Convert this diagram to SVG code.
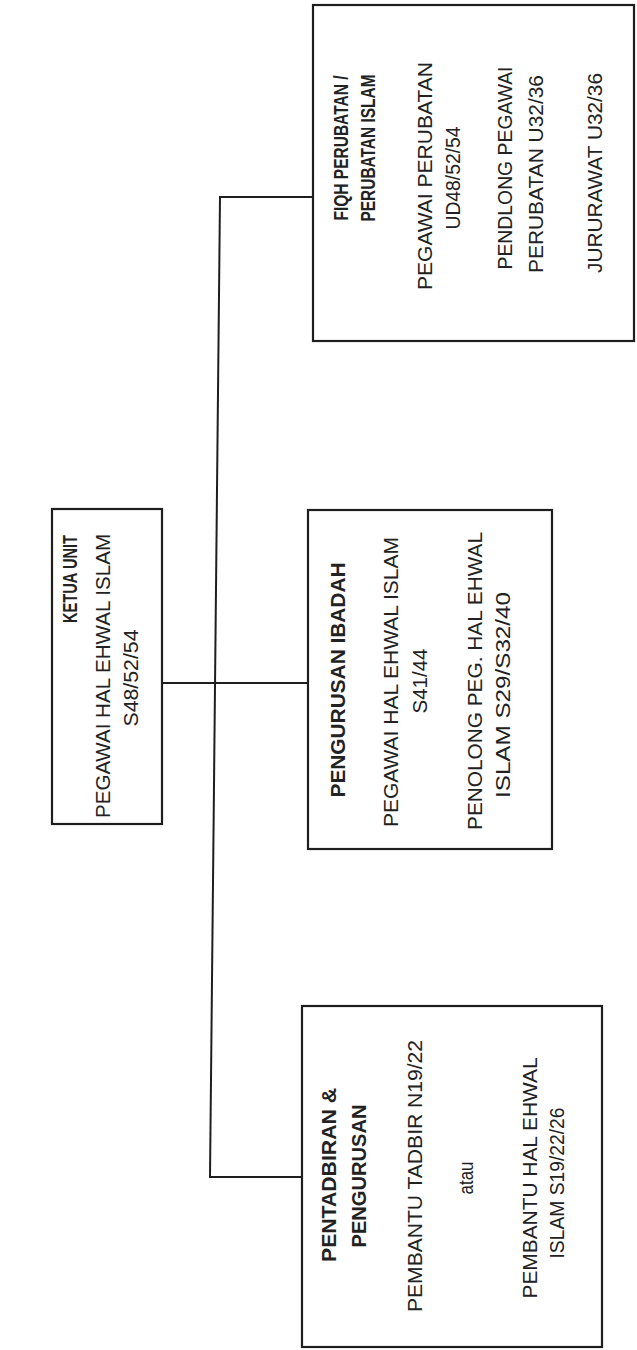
<svg xmlns="http://www.w3.org/2000/svg" width="637" height="1350" viewBox="0 0 637 1350">
  <style>
    .box { fill: none; stroke: #1e1e1e; stroke-width: 2.2; }
    .link { fill: none; stroke: #1e1e1e; stroke-width: 2; }
    text { font-family: "Liberation Sans", Arial, sans-serif; font-size: 20px; fill: #222222; text-anchor: middle; }
    .head { font-weight: bold; }
  </style>
  <rect width="637" height="1350" fill="#ffffff"/>

  <!-- connectors -->
  <g id="connectors">
    <line class="link" x1="220" y1="197" x2="210" y2="1177"/>
    <line class="link" x1="219" y1="197" x2="313" y2="197"/>
    <line class="link" x1="163" y1="683" x2="308" y2="683"/>
    <line class="link" x1="209" y1="1177" x2="302" y2="1177"/>
  </g>

  <!-- head of unit -->
  <g id="ketua-unit">
    <rect class="box" x="52" y="509" width="110" height="315"/>
    <text class="head" transform="translate(77,579) rotate(-90)" textLength="88" lengthAdjust="spacingAndGlyphs">KETUA UNIT</text>
    <text transform="translate(110,676) rotate(-90)" textLength="284" lengthAdjust="spacingAndGlyphs">PEGAWAI HAL EHWAL ISLAM</text>
    <text transform="translate(138,678) rotate(-90)" textLength="97" lengthAdjust="spacingAndGlyphs">S48/52/54</text>
  </g>

  <!-- Islamic medicine section -->
  <g id="fiqh-perubatan">
    <rect class="box" x="313" y="5" width="321" height="336"/>
    <text class="head" transform="translate(348,148) rotate(-90)" textLength="145" lengthAdjust="spacingAndGlyphs">FIQH PERUBATAN /</text>
    <text class="head" transform="translate(375,148) rotate(-90)" textLength="147" lengthAdjust="spacingAndGlyphs">PERUBATAN ISLAM</text>
    <text transform="translate(432,176) rotate(-90)" textLength="228" lengthAdjust="spacingAndGlyphs">PEGAWAI PERUBATAN</text>
    <text transform="translate(460,178) rotate(-90)" textLength="103" lengthAdjust="spacingAndGlyphs">UD48/52/54</text>
    <text transform="translate(512,168) rotate(-90)" textLength="203" lengthAdjust="spacingAndGlyphs">PENDLONG PEGAWAI</text>
    <text transform="translate(543,174) rotate(-90)" textLength="198" lengthAdjust="spacingAndGlyphs">PERUBATAN U32/36</text>
    <text transform="translate(602,173) rotate(-90)" textLength="200" lengthAdjust="spacingAndGlyphs">JURURAWAT U32/36</text>
  </g>

  <!-- worship management section -->
  <g id="pengurusan-ibadah">
    <rect class="box" x="308" y="510" width="244" height="339"/>
    <text class="head" transform="translate(345,680) rotate(-90)" textLength="235" lengthAdjust="spacingAndGlyphs">PENGURUSAN IBADAH</text>
    <text transform="translate(398,682) rotate(-90)" textLength="290" lengthAdjust="spacingAndGlyphs">PEGAWAI HAL EHWAL ISLAM</text>
    <text transform="translate(427,681) rotate(-90)" textLength="65" lengthAdjust="spacingAndGlyphs">S41/44</text>
    <text transform="translate(482,681) rotate(-90)" textLength="298" lengthAdjust="spacingAndGlyphs">PENOLONG PEG. HAL EHWAL</text>
    <text transform="translate(510,695) rotate(-90)" textLength="206" lengthAdjust="spacingAndGlyphs">ISLAM S29/S32/40</text>
  </g>

  <!-- administration section -->
  <g id="pentadbiran">
    <rect class="box" x="302" y="1006" width="300" height="341"/>
    <text class="head" transform="translate(336,1175) rotate(-90)" textLength="174" lengthAdjust="spacingAndGlyphs">PENTADBIRAN &amp;</text>
    <text class="head" transform="translate(366,1176) rotate(-90)" textLength="143" lengthAdjust="spacingAndGlyphs">PENGURUSAN</text>
    <text transform="translate(422,1176) rotate(-90)" textLength="272" lengthAdjust="spacingAndGlyphs">PEMBANTU TADBIR N19/22</text>
    <text transform="translate(473,1178) rotate(-90)" textLength="33" lengthAdjust="spacingAndGlyphs">atau</text>
    <text transform="translate(537,1178) rotate(-90)" textLength="241" lengthAdjust="spacingAndGlyphs">PEMBANTU HAL EHWAL</text>
    <text transform="translate(564,1183) rotate(-90)" textLength="151" lengthAdjust="spacingAndGlyphs">ISLAM S19/22/26</text>
  </g>
</svg>
